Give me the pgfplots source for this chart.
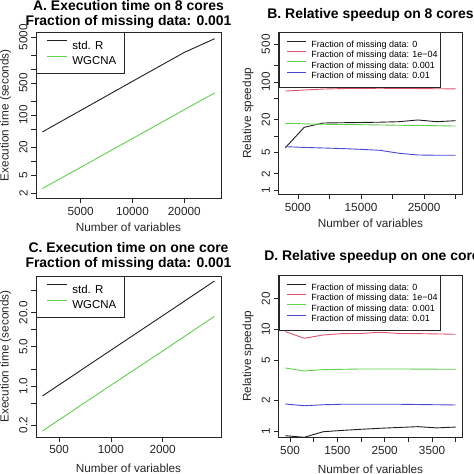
\documentclass[border=0pt]{standalone}
\usepackage{fontspec}
\setmainfont{Liberation Sans}
\usepackage{pgfplots}
\pgfplotsset{compat=1.18}
\definecolor{rred}{RGB}{223,83,107}
\definecolor{rgreen}{RGB}{97,208,79}
\definecolor{rblue}{RGB}{72,72,210}
\definecolor{rblack}{RGB}{30,30,30}

\pgfplotsset{
  rstyle/.style={
    scale only axis,
    axis line style={line width=0.8bp, black!85},
    tick style={line width=0.6bp, black!85},
    tick align=outside,
    major tick length=5bp,
    xtick pos=bottom, ytick pos=left,
    xminorticks=false, yminorticks=false,
    scaled x ticks=false, scaled y ticks=false,
    /pgf/number format/assume math mode=true,
    tick label style={font=\fontsize{11.8}{13}\selectfont, text=black!85},
    label style={font=\fontsize{11.8}{13}\selectfont, text=black!85},
    yticklabel style={rotate=90, anchor=south},
    ylabel style={at={(axis description cs:-0.165,0.5)}, anchor=center, rotate=0},
    every axis plot/.append style={line width=0.9bp, no marks},
    legend cell align=left,
  },
  legbig/.style={
    legend style={at={(rel axis cs:0,1)}, anchor=north west, draw=black!85, line width=0.8bp,
      fill=white, inner xsep=0bp, inner ysep=5bp, row sep=0bp, column sep=0bp,
      nodes={inner sep=0bp, text height=11.75bp, text depth=3.55bp, font=\fontsize{11.5}{13}\selectfont}},
    legend image code/.code={\path[draw=none] (0bp,0bp) -- (36bp,0bp); \draw[##1, line width=0.9bp] (10.7bp,4.1bp) -- (30.7bp,4.1bp);},
  },
  legsmall/.style={
    legend style={at={(rel axis cs:0,1)}, anchor=north west, draw=black!85, line width=0.8bp,
      fill=white, inner xsep=0bp, inner ysep=6.3bp, row sep=0bp, column sep=0bp,
      nodes={inner sep=0bp, text height=8.43bp, text depth=1.98bp, font=\fontsize{9}{10}\selectfont}},
    legend image code/.code={\path[draw=none] (0bp,0bp) -- (32.5bp,0bp); \draw[##1, line width=0.9bp] (8.5bp,3.2bp) -- (26.8bp,3.2bp);},
  },
}

\begin{document}
\begin{tikzpicture}[x=1bp,y=1bp]

% ---------- A ----------
\begin{axis}[rstyle, legbig, at={(36bp,275.5bp)}, anchor=south west, width=185bp, height=166.5bp,
  xmode=log, ymode=log, xmin=2753, xmax=32690, ymin=1.53, ymax=6430,
  xtick={5000,10000,20000}, xticklabels={5000,10000,20000},
  ytick={2,5,10,20,50,100,200,500,1000,2000,5000}, yticklabels={2,5,,20,,100,,500,,,5000},
  xlabel={Number of variables}, ylabel={Execution time (seconds)},
  xlabel style={at={(axis description cs:0.5,-0.175)}, anchor=center}]
\addplot[rblack] coordinates {(3000,43) (10000,542) (20000,2310) (30000,4590)};
\addlegendentry{\makebox[52.3bp][l]{std. R}}
\addplot[rgreen] coordinates {(3000,2.52) (10000,30.8) (20000,131) (30000,303)};
\addlegendentry{\makebox[52.3bp][l]{WGCNA}}
\end{axis}

% ---------- B ----------
\begin{axis}[rstyle, legsmall, at={(278.5bp,279.7bp)}, anchor=south west, width=184bp, height=162bp,
  ymode=log, xmin=1920, xmax=31080, ymin=0.833, ymax=832,
  xtick={5000,10000,15000,20000,25000,30000}, xticklabels={5000,,15000,,25000,},
  ytick={1,2,5,10,20,50,100,200,500}, yticklabels={1,2,5,,20,,100,,500},
  xlabel={Number of variables}, ylabel={Relative speedup},
  xlabel style={at={(axis description cs:0.5,-0.18)}, anchor=center}]
\addplot[rblack] coordinates {(3000,6.07) (6000,14.5) (9000,17.4) (12000,17.6) (15000,17.8) (18000,18.0) (21000,18.4) (24000,19.8) (27000,18.4) (30000,19.2)};
\addlegendentry{\makebox[129.3bp][l]{Fraction of missing data: 0}}
\addplot[rred] coordinates {(3000,68) (6000,71) (9000,74) (12000,75.5) (15000,76) (18000,76.5) (21000,76) (24000,75.5) (27000,75) (30000,74.5)};
\addlegendentry{\makebox[129.3bp][l]{Fraction of missing data: 1e−04}}
\addplot[rgreen] coordinates {(3000,17.2) (6000,16.8) (9000,16.5) (12000,16.3) (15000,16.2) (18000,16.0) (21000,15.8) (24000,15.7) (27000,15.5) (30000,15.3)};
\addlegendentry{\makebox[129.3bp][l]{Fraction of missing data: 0.001}}
\addplot[rblue] coordinates {(3000,6.34) (6000,6.15) (9000,6.0) (12000,5.85) (15000,5.66) (18000,5.43) (21000,4.79) (24000,4.45) (27000,4.4) (30000,4.4)};
\addlegendentry{\makebox[129.3bp][l]{Fraction of missing data: 0.01}}
\end{axis}

% ---------- C ----------
\begin{axis}[rstyle, legbig, at={(36bp,37bp)}, anchor=south west, width=185bp, height=161bp,
  xmode=log, ymode=log, xmin=367, xmax=4365, ymin=0.124, ymax=90,
  xtick={500,1000,2000}, xticklabels={500,1000,2000},
  ytick={0.2,0.5,1,2,5,10,20,50}, yticklabels={0.2,,1.0,,5.0,,20.0,},
  xlabel={Number of variables}, ylabel={Execution time (seconds)},
  xlabel style={at={(axis description cs:0.5,-0.196)}, anchor=center}]
\addplot[rblack] coordinates {(400,0.664) (1000,4.32) (2000,17.7) (4000,73.3)};
\addlegendentry{\makebox[52.3bp][l]{std. R}}
\addplot[rgreen] coordinates {(400,0.159) (1000,1.03) (2000,4.18) (4000,17.3)};
\addlegendentry{\makebox[52.3bp][l]{WGCNA}}
\end{axis}

% ---------- D ----------
\begin{axis}[rstyle, legsmall, at={(278.5bp,36.7bp)}, anchor=south west, width=184bp, height=162bp,
  ymode=log, xmin=256, xmax=4144, ymin=0.873, ymax=33.8,
  xtick={500,1000,1500,2000,2500,3000,3500,4000}, xticklabels={500,,1500,,2500,,3500,},
  ytick={1,2,5,10,20}, yticklabels={1,2,5,10,20},
  xlabel={Number of variables}, ylabel={Relative speedup},
  xlabel style={at={(axis description cs:0.5,-0.196)}, anchor=center}]
\addplot[rblack] coordinates {(400,0.905) (800,0.873) (1200,0.99) (1600,1.02) (2000,1.046) (2400,1.07) (2800,1.09) (3200,1.11) (3600,1.08) (4000,1.1)};
\addlegendentry{\makebox[129.3bp][l]{Fraction of missing data: 0}}
\addplot[rred] coordinates {(400,9.48) (800,8.16) (1200,8.79) (1600,9.06) (2000,9.1) (2400,9.34) (2800,9.1) (3200,9.06) (3600,9.0) (4000,8.93)};
\addlegendentry{\makebox[129.3bp][l]{Fraction of missing data: 1e−04}}
\addplot[rgreen] coordinates {(400,4.17) (800,3.90) (1200,4.02) (1600,4.05) (2000,4.08) (2400,4.08) (2800,4.08) (3200,4.07) (3600,4.06) (4000,4.05)};
\addlegendentry{\makebox[129.3bp][l]{Fraction of missing data: 0.001}}
\addplot[rblue] coordinates {(400,1.85) (800,1.78) (1200,1.82) (1600,1.84) (2000,1.84) (2400,1.84) (2800,1.84) (3200,1.83) (3600,1.82) (4000,1.81)};
\addlegendentry{\makebox[129.3bp][l]{Fraction of missing data: 0.01}}
\end{axis}

% ---------- titles ----------
\begin{scope}[every node/.style={anchor=base, font=\bfseries\fontsize{14}{16}\selectfont, inner sep=0pt}]
\node at (128.5,463.7) {A. Execution time on 8 cores};
\node at (128.5,448.3) {Fraction of missing data: 0.001};
\node at (370.5,455.7) {B. Relative speedup on 8 cores};
\node at (128.5,221.3) {C. Execution time on one core};
\node at (128.5,206) {Fraction of missing data: 0.001};
\node at (372,213.7) {D. Relative speedup on one core};
\end{scope}

\pgfresetboundingbox
\useasboundingbox (0,0) rectangle (474,474);
\end{tikzpicture}
\end{document}
